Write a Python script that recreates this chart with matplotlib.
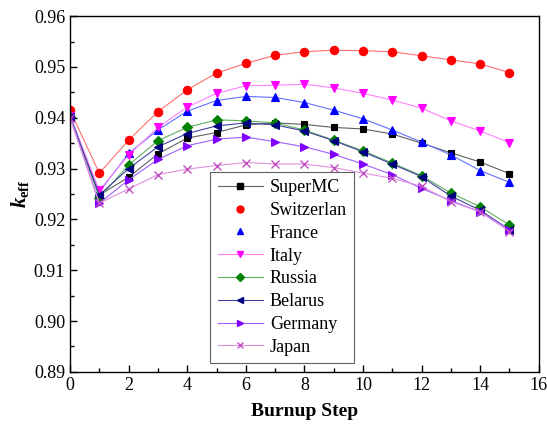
import matplotlib
matplotlib.use("Agg")
import matplotlib.pyplot as plt
from matplotlib.lines import Line2D
from matplotlib.ticker import MultipleLocator, FormatStrFormatter

plt.rcParams['font.family'] = ['Liberation Serif', 'DejaVu Serif']
plt.rcParams['mathtext.fontset'] = 'custom'
plt.rcParams['mathtext.rm'] = 'Liberation Serif:bold'
plt.rcParams['mathtext.it'] = 'Liberation Serif:italic:bold'
plt.rcParams['mathtext.bf'] = 'Liberation Serif:bold'

steps = list(range(16))
supermc = [0.9405, 0.9248, 0.9283, 0.9329, 0.9360, 0.9371, 0.9386, 0.9390, 0.9387, 0.9381, 0.9378, 0.9368, 0.9350, 0.9331, 0.9313, 0.9290]
switzerland = [0.9415, 0.9291, 0.9356, 0.9412, 0.9455, 0.9488, 0.9507, 0.9523, 0.9530, 0.9533, 0.9532, 0.9530, 0.9522, 0.9514, 0.9506, 0.9489]
france = [0.9405, 0.9254, 0.9330, 0.9376, 0.9413, 0.9434, 0.9442, 0.9440, 0.9430, 0.9415, 0.9398, 0.9376, 0.9352, 0.9327, 0.9296, 0.9273]
italy = [0.9403, 0.9257, 0.9327, 0.9381, 0.9421, 0.9448, 0.9463, 0.9464, 0.9466, 0.9459, 0.9448, 0.9435, 0.9419, 0.9394, 0.9374, 0.9351]
russia = [0.9402, 0.9243, 0.9307, 0.9355, 0.9381, 0.9396, 0.9394, 0.9390, 0.9376, 0.9356, 0.9335, 0.9311, 0.9286, 0.9252, 0.9225, 0.9189]
belarus = [0.9402, 0.9248, 0.9300, 0.9343, 0.9369, 0.9384, 0.9390, 0.9386, 0.9374, 0.9355, 0.9333, 0.9309, 0.9284, 0.9246, 0.9218, 0.9180]
germany = [0.9401, 0.9232, 0.9278, 0.9318, 0.9345, 0.9358, 0.9362, 0.9353, 0.9343, 0.9328, 0.9309, 0.9288, 0.9261, 0.9237, 0.9215, 0.9180]
japan = [0.9400, 0.9232, 0.9260, 0.9288, 0.9299, 0.9306, 0.9312, 0.9309, 0.9309, 0.9302, 0.9291, 0.9281, 0.9265, 0.9235, 0.9215, 0.9176]

names = ['SuperMC', 'Switzerlan', 'France', 'Italy', 'Russia', 'Belarus', 'Germany', 'Japan']
series = [supermc, switzerland, france, italy, russia, belarus, germany, japan]
markers = ['s', 'o', '^', 'v', 'D', '<', '>', 'x']
mcolors = ['#000000', '#FF0000', '#0000FF', '#FF00FF', '#008000', '#000080', '#8000FF', '#C050C0']
lcolors = ['#606060', '#FF7070', '#6070FF', '#FF80FF', '#60B060', '#4040A0', '#A060FF', '#E090E0']
msizes = [5, 6, 6, 6, 5, 6, 6, 6]
legend_line = [True, False, False, True, True, True, True, True]

fig = plt.figure(figsize=(5.47, 4.25), dpi=100)
ax = fig.add_axes([0.128, 0.125, 0.857, 0.837])

for name, ys, m, mc, lc, ms in zip(names, series, markers, mcolors, lcolors, msizes):
    ax.plot(steps, ys, color=lc, linewidth=0.8, marker=m, markersize=ms,
            markerfacecolor=mc, markeredgecolor=mc, markeredgewidth=0.8 if m != 'x' else 1.0)

handles = []
for name, m, mc, lc, ms, ll in zip(names, markers, mcolors, lcolors, msizes, legend_line):
    handles.append(Line2D([0], [0], color=lc, linewidth=0.8 if ll else 0, linestyle='-' if ll else 'none',
                          marker=m, markersize=ms - 1, markerfacecolor=mc, markeredgecolor=mc))

leg = ax.legend(handles, names, loc='lower left', bbox_to_anchor=(0.28, 0.0), fontsize=13,
                frameon=True, fancybox=False, edgecolor='#606060', framealpha=1,
                handlelength=2.5, handletextpad=0.4, labelspacing=0.32, borderpad=0.4)
leg.get_frame().set_linewidth(0.8)

ax.set_xlim(0, 16)
ax.set_ylim(0.89, 0.96)
ax.xaxis.set_major_locator(MultipleLocator(2))
ax.xaxis.set_minor_locator(MultipleLocator(1))
ax.yaxis.set_major_locator(MultipleLocator(0.01))
ax.yaxis.set_minor_locator(MultipleLocator(0.005))
ax.yaxis.set_major_formatter(FormatStrFormatter('%.2f'))
ax.tick_params(which='both', direction='in', top=False, right=False, labelsize=13)
ax.tick_params(which='major', length=5, width=1)
ax.tick_params(which='minor', length=3, width=1)
for sp in ax.spines.values():
    sp.set_linewidth(1.0)

ax.set_xlabel('Burnup Step', fontsize=14, fontweight='bold', labelpad=7)
ax.set_ylabel(r'$k_{\mathrm{eff}}$', fontsize=15, labelpad=2)

fig.savefig('out.png', dpi=100)
